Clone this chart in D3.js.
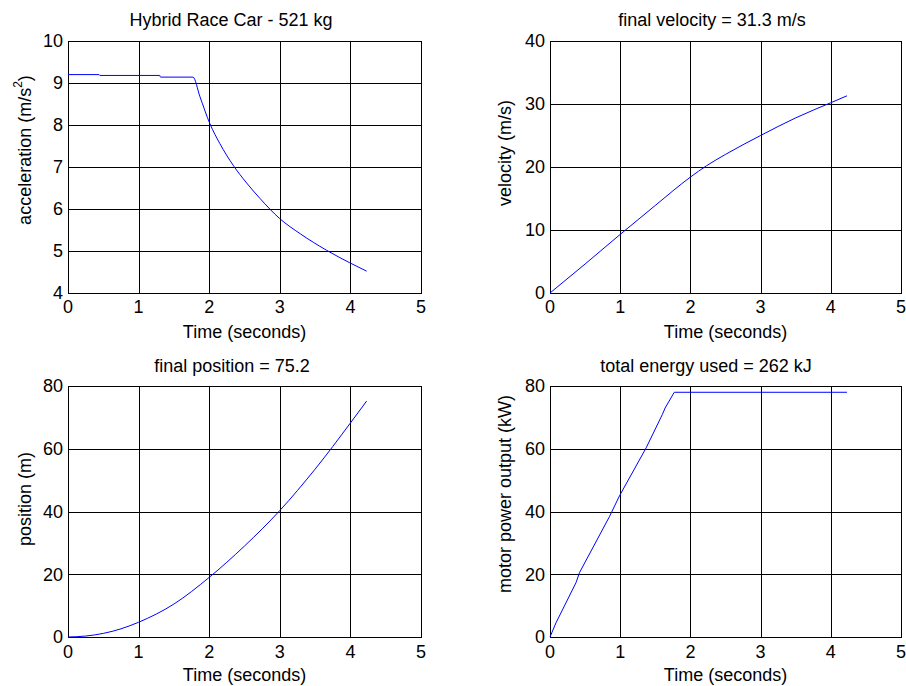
<!DOCTYPE html>
<html>
<head>
<meta charset="utf-8">
<script src="https://cdn.jsdelivr.net/npm/d3@7/dist/d3.min.js"></script>
<style>
  html, body { margin: 0; padding: 0; background: #fff; }
  svg { display: block; }
  text { font-family: "Liberation Sans", Arial, Helvetica, sans-serif; fill: #000; }
</style>
</head>
<body>
<svg id="chart" width="906" height="686"></svg>
<script>
// ---- Data ----
const accTime = [0, 0.44, 0.45, 1.30, 1.31, 1.77, 1.87, 2.01, 2.15, 2.34, 2.53, 2.72, 3.00, 3.29, 3.66, 3.99, 4.23];
const accVal  = [9.20, 9.20, 9.18, 9.18, 9.14, 9.14, 8.67, 8.03, 7.56, 7.04, 6.62, 6.25, 5.77, 5.41, 5.02, 4.72, 4.52];

const velTime = [0, 0.5, 1.0, 1.5, 2.0, 2.23, 2.5, 3.0, 3.5, 4.0, 4.23];
const velVal  = [0, 4.6, 9.3, 13.9, 18.4, 20.2, 22.0, 25.0, 27.8, 30.2, 31.3];

const posTime = [0, 0.25, 0.5, 0.75, 1.0, 1.5, 2.0, 2.5, 3.0, 3.5, 4.0, 4.23];
const posVal  = [0, 0.3, 1.15, 2.6, 4.7, 10.5, 19.0, 29.0, 40.3, 53.5, 68.2, 75.2];

const powTime = [0, 0.085, 0.37, 0.42, 0.85, 0.99, 1.37, 1.60, 1.64, 1.77, 4.23];
const powVal  = [0, 4.5, 17.3, 20.5, 38.5, 45.0, 60.3, 70.9, 73.0, 78.0, 78.0];

const xTicks = [0, 1, 2, 3, 4, 5];
const accTicks = [4, 5, 6, 7, 8, 9, 10];
const velTicks = [0, 10, 20, 30, 40];
const posTicks = [0, 20, 40, 60, 80];
const powTicks = [0, 20, 40, 60, 80];

const titles = ["Hybrid Race Car - 521 kg", "final velocity = 31.3 m/s", "final position = 75.2", "total energy used = 262 kJ"];
const xLabel = "Time (seconds)";

// ---- Layout ----
const panels = [
  { t: accTime, v: accVal, ticks: accTicks, dom: [4, 10], box: [68, 41, 421, 293], title: titles[0], titleX: 231, titleY: 26,
    ylab: "acceleration (m/s", sup: "2", ylabEnd: ")", ylabX: 31, ylabY: 150, xlabY: 338, tickY: 313, smooth: true },
  { t: velTime, v: velVal, ticks: velTicks, dom: [0, 40], box: [550, 41, 901, 293], title: titles[1], titleX: 712, titleY: 26,
    ylab: "velocity (m/s)", ylabX: 511, ylabY: 153, xlabY: 338, tickY: 313, smooth: true },
  { t: posTime, v: posVal, ticks: posTicks, dom: [0, 80], box: [68, 386, 421, 637], title: titles[2], titleX: 232, titleY: 372,
    ylab: "position (m)", ylabX: 31, ylabY: 499, xlabY: 681, tickY: 658, smooth: true },
  { t: powTime, v: powVal, ticks: powTicks, dom: [0, 80], box: [550, 386, 901, 637], title: titles[3], titleX: 706, titleY: 372,
    ylab: "motor power output (kW)", ylabX: 511, ylabY: 494, xlabY: 681, tickY: 658, smooth: false }
];

const svg = d3.select("#chart");
svg.append("rect").attr("width", 906).attr("height", 686).attr("fill", "#fff");

panels.forEach(p => {
  const [x0, y0, x1, y1] = p.box;
  const x = d3.scaleLinear().domain([0, 5]).range([x0, x1]);
  const y = d3.scaleLinear().domain(p.dom).range([y1, y0]);
  const g = svg.append("g");

  // grid
  g.selectAll(".vg").data(xTicks).join("line")
    .attr("x1", d => Math.round(x(d)) + 0.5).attr("x2", d => Math.round(x(d)) + 0.5)
    .attr("y1", y0).attr("y2", y1)
    .attr("stroke", "#000").attr("stroke-width", 1);
  g.selectAll(".hg").data(p.ticks).join("line")
    .attr("y1", d => Math.round(y(d)) + 0.5).attr("y2", d => Math.round(y(d)) + 0.5)
    .attr("x1", x0).attr("x2", x1)
    .attr("stroke", "#000").attr("stroke-width", 1);

  // box
  g.append("rect").attr("x", x0 + 0.5).attr("y", y0 + 0.5)
    .attr("width", x1 - x0).attr("height", y1 - y0)
    .attr("fill", "none").attr("stroke", "#000").attr("stroke-width", 1);

  // data line
  const pts = p.t.map((t, i) => [t, p.v[i]]);
  const line = d3.line().x(d => x(d[0])).y(d => y(d[1]));
  if (p.smooth) line.curve(d3.curveMonotoneX);
  g.append("path").datum(pts)
    .attr("d", line)
    .attr("fill", "none").attr("stroke", "#0000ff").attr("stroke-width", 1);

  // x tick labels
  g.selectAll(".xt").data(xTicks).join("text")
    .attr("x", d => x(d)).attr("y", p.tickY)
    .attr("text-anchor", "middle").attr("font-size", 18)
    .text(d => d);

  // y tick labels
  g.selectAll(".yt").data(p.ticks).join("text")
    .attr("x", x0 - 5).attr("y", d => y(d)).attr("dy", "0.36em")
    .attr("text-anchor", "end").attr("font-size", 18)
    .text(d => d);

  // title
  g.append("text").attr("x", p.titleX).attr("y", p.titleY)
    .attr("text-anchor", "middle").attr("font-size", 18).text(p.title);

  // x label
  g.append("text").attr("x", (x0 + x1) / 2).attr("y", p.xlabY)
    .attr("text-anchor", "middle").attr("font-size", 18).text(xLabel);

  // y label
  const yl = g.append("text")
    .attr("transform", `translate(${p.ylabX},${p.ylabY}) rotate(-90)`)
    .attr("text-anchor", "middle").attr("font-size", 18);
  yl.append("tspan").text(p.ylab);
  if (p.sup) {
    yl.append("tspan").attr("font-size", 12).attr("dy", "-9").text(p.sup);
    yl.append("tspan").attr("dy", "9").text(p.ylabEnd);
  }
});
</script>
</body>
</html>
